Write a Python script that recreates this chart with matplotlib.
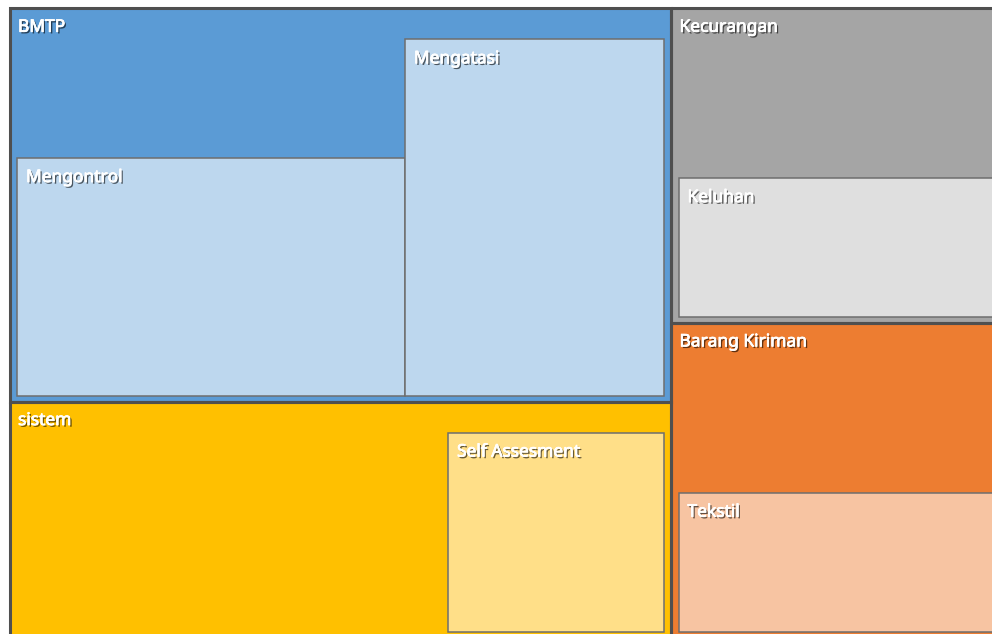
import matplotlib
matplotlib.use("Agg")
import matplotlib.pyplot as plt
import matplotlib.patheffects as pe
from matplotlib.patches import Rectangle

# treemap data: every parent row has its own value plus its children
groups = ["BMTP", "sistem", "Kecurangan", "Barang Kiriman"]
group_own = [1, 2, 1, 1]
children = [["Mengontrol", "Mengatasi"], ["Self Assesment"], ["Keluhan"], ["Tekstil"]]
child_values = [[2, 2], [1], [1], [1]]
columns = [[0, 1], [2, 3]]   # which groups share a column

parent_colors = ["#5B9BD5", "#FFC000", "#A5A5A5", "#ED7D31"]
child_colors = ["#BDD7EE", "#FFDF88", "#DFDFDF", "#F7C4A2"]
stacked = {"Kecurangan", "Barang Kiriman"}   # children stacked top/bottom

# canvas in pixel units (the picture crops the right and bottom edge)
X0, Y0, X1, Y1 = 9.5, 8.3, 1001.75, 637.5
PAD_L, PAD_R, PAD_T, PAD_B = 7.5, 7.5, 31, 6


def split(items, x, y, w, h, side_by_side):
    # slice and dice: halve the items by value, alternate direction each level
    if len(items) == 1:
        return [(items[0][0], x, y, w, h)]
    total = sum(v for _, v in items)
    best, acc, diff = 1, 0, float("inf")
    for i in range(1, len(items)):
        acc += items[i - 1][1]
        if abs(total / 2 - acc) < diff:
            best, diff = i, abs(total / 2 - acc)
    a, b = items[:best], items[best:]
    f = sum(v for _, v in a) / total
    nxt = not side_by_side
    if side_by_side:
        return split(a, x, y, w * f, h, nxt) + split(b, x + w * f, y, w * (1 - f), h, nxt)
    return split(a, x, y, w, h * f, nxt) + split(b, x, y + h * f, w, h * (1 - f), nxt)


totals = [o + sum(c) for o, c in zip(group_own, child_values)]
grand = sum(totals)

fig = plt.figure(figsize=(9.92, 6.34), dpi=100)
ax = fig.add_axes([0, 0, 1, 1])
ax.set_xlim(0, 992)
ax.set_ylim(634, 0)
ax.axis("off")

shadow = [pe.withSimplePatchShadow(offset=(1.2, -1.2), shadow_rgbFace="black", alpha=0.6),
          pe.Stroke(linewidth=0.5, foreground="white"), pe.Normal()]
font = dict(family="Noto Sans", fontsize=12.5, color="white", va="top", ha="left")

x = X0
for col in columns:
    col_total = sum(totals[g] for g in col)
    cw = (X1 - X0) * col_total / grand
    y = Y0
    for g in col:
        gh = (Y1 - Y0) * totals[g] / col_total
        ax.add_patch(Rectangle((x, y), cw, gh, facecolor=parent_colors[g], edgecolor="none", zorder=1))
        items = [("_own", group_own[g])] + list(zip(children[g], child_values[g]))
        iw, ih = cw - PAD_L - PAD_R, gh - PAD_T - PAD_B
        first = False if groups[g] in stacked else iw >= ih
        cells = split(items, x + PAD_L, y + PAD_T, iw, ih, first)
        for name, cx, cy, w, h in cells:
            if name == "_own":
                continue
            ax.add_patch(Rectangle((cx, cy), w, h, facecolor=child_colors[g],
                                   edgecolor="#6E6E6E", linewidth=1.1, zorder=2))
            ax.text(cx + 9, cy + 10, name, path_effects=shadow, zorder=5, **font)
        ax.add_patch(Rectangle((x, y), cw, gh, facecolor="none", edgecolor="#4F4F4F",
                               linewidth=2.2, zorder=3))
        ax.text(x + 8.5, y + 9.5, groups[g], path_effects=shadow, zorder=5, **font)
        y += gh
    x += cw

fig.savefig("out.png", dpi=100, facecolor="white")
